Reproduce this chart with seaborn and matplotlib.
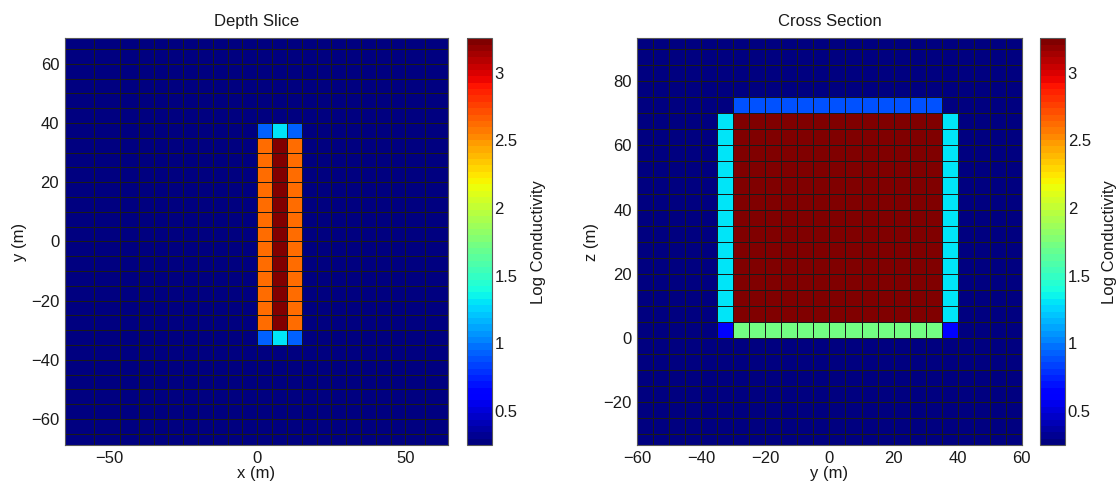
import numpy as np
import matplotlib
matplotlib.use("Agg")
import matplotlib.pyplot as plt
from matplotlib.colors import ListedColormap
import seaborn as sns

# mesh of the depth slice: x has padding cells, y is 5 m throughout the view
x_edges = [-66, -55, -46.5, -40, -35, -30, -25, -20, -15, -10, -5, 0, 5, 10,
           15, 20, 25, 30, 35, 40, 45, 50, 56.5, 65]
y_edges = [-71.5, -65, -60, -55, -50, -45, -40, -35, -30, -25, -20, -15, -10,
           -5, 0, 5, 10, 15, 20, 25, 30, 35, 40, 45, 50, 55, 60, 65, 71.5]

# mesh of the cross section (y horizontal, z vertical)
ys_edges = [-60, -55, -50, -45, -40, -35, -30, -25, -20, -15, -10, -5, 0, 5,
            10, 15, 20, 25, 30, 35, 40, 45, 50, 55, 60]
z_edges = [-35, -30, -25, -20, -15, -10, -5, 0, 5, 10, 15, 20, 25, 30, 35,
           40, 45, 50, 55, 60, 65, 70, 75, 80, 85, 90, 95]

background = 0.25

# blocks: (h0, h1, v0, v1, log conductivity)
slice_blocks = [
    (0, 5, -30, 35, 2.62),
    (5, 10, -30, 35, 3.25),
    (10, 15, -30, 35, 2.62),
    (0, 5, 35, 40, 0.95),
    (5, 10, 35, 40, 1.29),
    (10, 15, 35, 40, 0.95),
    (0, 5, -35, -30, 0.95),
    (5, 10, -35, -30, 1.29),
    (10, 15, -35, -30, 0.95),
]
section_blocks = [
    (-30, 35, 5, 70, 3.25),
    (-35, -30, 5, 70, 1.29),
    (35, 40, 5, 70, 1.29),
    (-30, 35, 70, 75, 0.86),
    (-30, 35, 0, 5, 1.71),
    (-35, -30, 0, 5, 0.67),
    (35, 40, 0, 5, 0.67),
]

clim = (0.248, 3.253)
cbar_ticks = [0.5, 1, 1.5, 2, 2.5, 3]


def build_model(h_edges, v_edges, blocks):
    h = np.asarray(h_edges, float)
    v = np.asarray(v_edges, float)
    hc = 0.5 * (h[:-1] + h[1:])
    vc = 0.5 * (v[:-1] + v[1:])
    model = np.full((len(vc), len(hc)), background)
    for h0, h1, v0, v1, val in blocks:
        mask = ((vc > v0) & (vc < v1))[:, None] & ((hc > h0) & (hc < h1))[None, :]
        model[mask] = val
    return h, v, model


sns.set_theme(style="white")
plt.rcParams["font.family"] = ["Liberation Sans", "DejaVu Sans"]
plt.rcParams["font.size"] = 12
plt.rcParams["text.color"] = "k"
plt.rcParams["axes.labelcolor"] = "k"

cmap = ListedColormap(plt.get_cmap("jet")(np.linspace(0, 1, 64)))

fig = plt.figure(figsize=(11.2, 4.93), dpi=100)
ax1 = fig.add_axes([0.0578, 0.0974, 0.3425, 0.825])
cax1 = fig.add_axes([0.4172, 0.0974, 0.0218, 0.825])
ax2 = fig.add_axes([0.569, 0.0974, 0.3432, 0.825])
cax2 = fig.add_axes([0.9286, 0.0974, 0.0223, 0.825])

panels = [
    (ax1, cax1, x_edges, y_edges, slice_blocks, "Depth Slice", "x (m)", "y (m)",
     (-65, 64.5), (-68.8, 68.6), [-50, 0, 50], [-60, -40, -20, 0, 20, 40, 60], 10),
    (ax2, cax2, ys_edges, z_edges, section_blocks, "Cross Section", "y (m)", "z (m)",
     (-60, 60), (-33.4, 93.4), [-60, -40, -20, 0, 20, 40, 60], [-20, 0, 20, 40, 60, 80], 8),
]

for ax, cax, he, ve, blocks, title, xl, yl, xlim, ylim, xt, yt, cpad in panels:
    h, v, model = build_model(he, ve, blocks)
    mesh = ax.pcolormesh(h, v, model, cmap=cmap, vmin=clim[0], vmax=clim[1],
                         edgecolors="none", antialiased=False)
    # cell edges, drawn as crisp one-pixel lines
    ax.vlines(h, v[0], v[-1], colors="k", linewidth=0.72, antialiased=False)
    ax.hlines(v, h[0], h[-1], colors="k", linewidth=0.72, antialiased=False)
    ax.set_xlim(*xlim)
    ax.set_ylim(*ylim)
    ax.set_xticks(xt)
    ax.set_yticks(yt)
    ax.tick_params(direction="in", length=4, width=0.6, colors="k",
                   labelsize=12, top=True, right=True, pad=4)
    for s in ax.spines.values():
        s.set_color("0.35")
        s.set_linewidth(0.8)
    ax.set_title(title, fontsize=12, pad=9)
    ax.set_xlabel(xl, fontsize=12, labelpad=0)
    ax.set_ylabel(yl, fontsize=12, labelpad=3)

    cb = fig.colorbar(mesh, cax=cax, ticks=cbar_ticks)
    cb.ax.set_yticklabels(["0.5", "1", "1.5", "2", "2.5", "3"])
    cb.ax.tick_params(direction="in", length=3, width=0.6, left=True, right=True,
                      labelsize=12, pad=2, colors="k")
    cb.outline.set_edgecolor("0.35")
    cb.outline.set_linewidth(0.8)
    cb.set_label("Log Conductivity", fontsize=12, labelpad=cpad)

fig.savefig("out.png", dpi=100)
